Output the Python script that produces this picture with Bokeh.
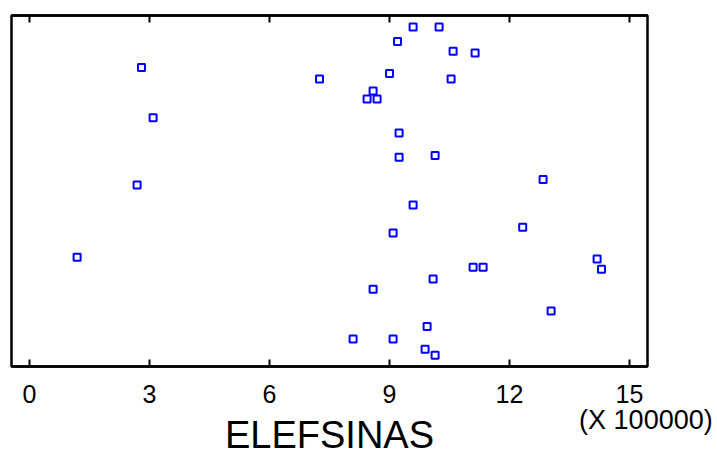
from bokeh.plotting import figure
from bokeh.models import ColumnDataSource, Range1d, LinearAxis, FixedTicker, CustomJSTickFormatter
from bokeh.embed import file_html
from bokeh.resources import INLINE

# ELEFSINAS values (in units of 100000) and vertical jitter position (0..1)
elefsinas = [2.80, 7.25, 3.09, 2.69, 9.59, 10.24, 9.20, 10.59, 11.14, 9.00,
             10.54, 8.59, 8.44, 8.69, 9.24, 9.24, 10.14, 12.84, 1.19, 8.09,
             9.59, 9.09, 12.33, 11.09, 11.34, 14.19, 14.30, 10.09, 8.59, 13.04,
             9.94, 9.09, 9.89, 10.14]
jitter = [0.852, 0.819, 0.709, 0.517, 0.967, 0.967, 0.926, 0.898, 0.893, 0.835,
          0.819, 0.785, 0.762, 0.762, 0.665, 0.596, 0.601, 0.533, 0.311, 0.078,
          0.460, 0.380, 0.397, 0.283, 0.283, 0.306, 0.277, 0.249, 0.220, 0.158,
          0.114, 0.078, 0.049, 0.032]
x_ticks = [0, 3, 6, 9, 12, 15]
x_label = "ELEFSINAS"
scale_label = "(X 100000)"
scale_label_pos = [15.41]

FONT = "Liberation Sans"

src = ColumnDataSource(dict(x=elefsinas, y=jitter))

p = figure(output_backend="svg", toolbar_location=None,
           frame_width=636, frame_height=351,
           x_range=Range1d(-0.45, 15.45), y_range=Range1d(0, 1),
           min_border_left=11, min_border_top=15, min_border_right=66,
           min_border_bottom=0,
           x_axis_location=None, y_axis_location=None,
           background_fill_color="white", border_fill_color="white")
p.grid.visible = False
p.outline_line_color = "black"
p.outline_line_width = 2.5

# main bottom axis with tick labels
xa = LinearAxis(ticker=FixedTicker(ticks=x_ticks))
xa.axis_line_color = "black"
xa.axis_line_width = 2.5
xa.major_tick_in = 7
xa.major_tick_out = 0
xa.major_tick_line_width = 2
xa.minor_tick_line_color = None
xa.major_label_text_font = FONT
xa.major_label_text_font_size = "25px"
xa.major_label_text_color = "black"
xa.major_label_standoff = 18
p.add_layout(xa, "below")

# second bottom row: scale note and axis title
xb = LinearAxis(ticker=FixedTicker(ticks=scale_label_pos),
                formatter=CustomJSTickFormatter(code="return '%s'" % scale_label),
                axis_label=x_label)
xb.axis_line_color = None
xb.major_tick_in = 0
xb.major_tick_out = 0
xb.major_tick_line_color = None
xb.minor_tick_line_color = None
xb.major_label_text_font = FONT
xb.major_label_text_font_size = "27px"
xb.major_label_text_color = "black"
xb.major_label_standoff = -1
xb.axis_label_text_font = FONT
xb.axis_label_text_font_size = "38px"
xb.axis_label_text_font_style = "normal"
xb.axis_label_text_color = "black"
xb.axis_label_standoff = -24
p.add_layout(xb, "below")

# top axis: ticks only
ta = LinearAxis(ticker=FixedTicker(ticks=x_ticks),
                formatter=CustomJSTickFormatter(code="return ''"))
ta.axis_line_color = "black"
ta.axis_line_width = 2.5
ta.major_tick_in = 7
ta.major_tick_out = 0
ta.major_tick_line_width = 2
ta.minor_tick_line_color = None
ta.major_label_standoff = 0
ta.major_label_text_font_size = "1px"
p.add_layout(ta, "above")

p.scatter("x", "y", source=src, marker="square", size=7,
          fill_color=None, line_color="#0000FF", line_width=2)

open("out.html", "w").write(file_html(p, INLINE))
